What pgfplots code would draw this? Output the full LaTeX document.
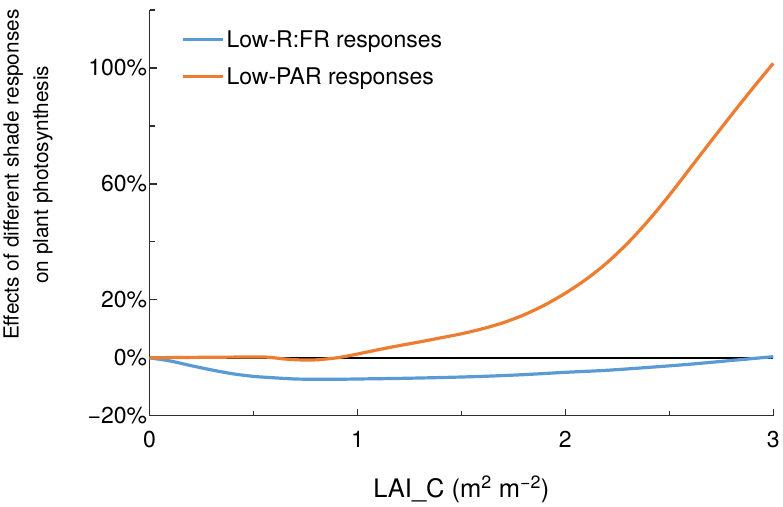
\documentclass[border=0pt]{standalone}
\usepackage{pgfplots}
\pgfplotsset{compat=1.18}
\usepackage{fontspec}
\setmainfont{TeX Gyre Heros}
\definecolor{cblue}{RGB}{91,155,213}
\definecolor{corange}{RGB}{237,125,49}
\definecolor{caxis}{RGB}{45,45,45}
\begin{document}
\begin{tikzpicture}
\begin{axis}[
  scale only axis,
  width=624pt, height=406pt,
  xmin=0, xmax=3, ymin=-20, ymax=120,
  axis lines=left,
  axis line style={caxis, line width=1.2pt, -},
  every tick/.style={caxis, line width=1.2pt},
  tick align=inside,
  major tick length=7pt, minor tick length=5pt,
  xtick={0,1,2,3},
  minor xtick={0.5,1.5,2.5},
  ytick={-20,0,20,60,100},
  yticklabels={−20\%,0\%,20\%,60\%,100\%},
  minor ytick={40,80,120},
  /pgf/number format/assume math mode=true,
  tick label style={font=\fontsize{23}{27}\selectfont},
  yticklabel style={xshift=1pt},
  xticklabel style={yshift=-12pt},
  xlabel={LAI\_C (m\textsuperscript{2} m\textsuperscript{−2})},
  xlabel style={font=\fontsize{25.5}{29}\selectfont, at={(axis description cs:0.5,-0.182)}, anchor=center},
  ylabel={Effects of different shade responses\\on plant photosynthesis},
  ylabel style={font=\fontsize{20.8}{29.5}\selectfont, align=center, at={(axis description cs:-0.195,0.594)}, anchor=center},
  legend style={draw=none, fill=none, at={(axis description cs:0.046,0.96)}, anchor=north west,
    font=\fontsize{23}{27}\selectfont, row sep=15pt},
  legend cell align=left,
  legend image code/.code={\draw[#1, line width=3.2pt] (0pt,0pt) -- (33pt,0pt); \path (0pt,0pt) -- (40pt,0pt);},
  clip=false,
]
\path (axis description cs:0,1) -- ++(0pt,10pt);
\addplot[black, line width=1.4pt, forget plot] coordinates {(0,0) (3,0)};
\addplot[cblue, line width=3.2pt, smooth, tension=0.5] coordinates {
(0,0) (0.1,-1.1) (0.2,-2.7) (0.3,-4.2) (0.4,-5.5) (0.5,-6.4) (0.6,-6.9) (0.7,-7.3)
(0.8,-7.4) (0.9,-7.4) (1.0,-7.3) (1.2,-7.1) (1.4,-6.8) (1.6,-6.4) (1.8,-5.8)
(2.0,-5.0) (2.2,-4.3) (2.4,-3.3) (2.6,-2.2) (2.8,-0.9) (3.0,0.4)};
\addlegendentry{Low-R:FR responses}
\addplot[corange, line width=3.2pt, smooth, tension=0.5] coordinates {
(0,0) (0.1,0.1) (0.2,0.15) (0.3,0.2) (0.4,0.25) (0.5,0.3) (0.55,0.3) (0.6,0.0)
(0.65,-0.4) (0.7,-0.65) (0.75,-0.75) (0.8,-0.7) (0.85,-0.4) (0.9,0.0) (0.95,0.6)
(1.0,1.3) (1.1,2.8) (1.2,4.2) (1.3,5.5) (1.4,6.9) (1.5,8.3) (1.6,10.0) (1.7,12.1)
(1.8,14.8) (1.9,18.2) (2.0,22.3) (2.1,27.1) (2.2,32.8) (2.3,39.6) (2.4,47.4)
(2.5,56.1) (2.6,65.4) (2.7,74.7) (2.8,83.9) (2.9,92.9) (3.0,101.6)};
\addlegendentry{Low-PAR responses}
\end{axis}
\end{tikzpicture}
\end{document}
